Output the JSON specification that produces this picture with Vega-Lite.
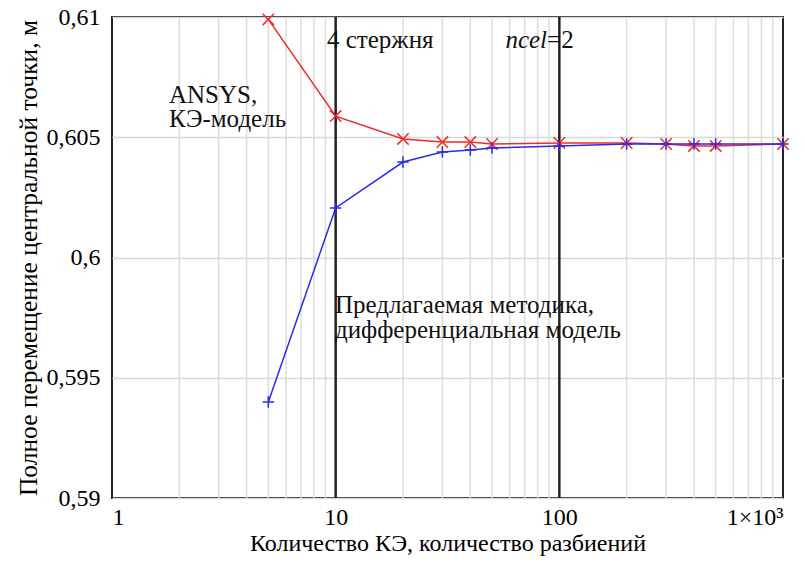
{
  "$schema": "https://vega.github.io/schema/vega-lite/v6.json",
  "width": 671,
  "height": 481,
  "autosize": {"type": "none"},
  "padding": {"left": 112, "top": 17, "right": 22, "bottom": 69},
  "background": "white",
  "config": {
    "view": {"stroke": "#222222", "strokeWidth": 2},
    "font": "Times New Roman",
    "locale": {"number": {"decimal": ",", "thousands": " ", "grouping": [3], "currency": ["", ""]}},
    "axisX": {
      "values": [1, 10, 100, 1000],
      "grid": false, "ticks": false, "domain": false,
      "labelFont": "Times New Roman", "labelFontSize": 24, "labelColor": "black",
      "labelPadding": 7,
      "titleFont": "Times New Roman", "titleFontSize": 24, "titleFontWeight": "normal",
      "titleColor": "black", "titlePadding": 2
    },
    "axisY": {
      "grid": true, "gridColor": "#d9d9d9", "gridWidth": 1.5,
      "ticks": false, "domain": false,
      "labelFont": "Times New Roman", "labelFontSize": 24, "labelColor": "black",
      "labelPadding": 12,
      "titleFont": "Times New Roman", "titleFontSize": 25.5, "titleFontWeight": "normal",
      "titleColor": "black", "titlePadding": 5
    }
  },
  "datasets": {
    "minor": [
      {"n": 2}, {"n": 3}, {"n": 4}, {"n": 5}, {"n": 6}, {"n": 7}, {"n": 8}, {"n": 9},
      {"n": 20}, {"n": 30}, {"n": 40}, {"n": 50}, {"n": 60}, {"n": 70}, {"n": 80}, {"n": 90},
      {"n": 200}, {"n": 300}, {"n": 400}, {"n": 500}, {"n": 600}, {"n": 700}, {"n": 800}, {"n": 900}
    ],
    "major": [{"n": 10}, {"n": 100}],
    "series": [
      {"s": "ANSYS", "n": 5, "v": 0.6099},
      {"s": "ANSYS", "n": 10, "v": 0.60588},
      {"s": "ANSYS", "n": 20, "v": 0.60493},
      {"s": "ANSYS", "n": 30, "v": 0.6048},
      {"s": "ANSYS", "n": 40, "v": 0.6048},
      {"s": "ANSYS", "n": 50, "v": 0.60472},
      {"s": "ANSYS", "n": 100, "v": 0.60476},
      {"s": "ANSYS", "n": 200, "v": 0.60476},
      {"s": "ANSYS", "n": 300, "v": 0.60472},
      {"s": "ANSYS", "n": 400, "v": 0.60464},
      {"s": "ANSYS", "n": 500, "v": 0.60464},
      {"s": "ANSYS", "n": 1000, "v": 0.60472},
      {"s": "Метод", "n": 5, "v": 0.59399},
      {"s": "Метод", "n": 10, "v": 0.60206},
      {"s": "Метод", "n": 20, "v": 0.60397},
      {"s": "Метод", "n": 30, "v": 0.60439},
      {"s": "Метод", "n": 40, "v": 0.60447},
      {"s": "Метод", "n": 50, "v": 0.60455},
      {"s": "Метод", "n": 100, "v": 0.60464},
      {"s": "Метод", "n": 200, "v": 0.60472},
      {"s": "Метод", "n": 300, "v": 0.60472},
      {"s": "Метод", "n": 400, "v": 0.60472},
      {"s": "Метод", "n": 500, "v": 0.60472},
      {"s": "Метод", "n": 1000, "v": 0.60472}
    ],
    "notes": [
      {"n": 9.147, "v": 0.60871, "t": "4 стержня"},
      {"n": 88.1, "v": 0.60871, "t": "=2"},
      {"n": 1.798, "v": 0.606424, "t": "ANSYS,"},
      {"n": 1.798, "v": 0.60542, "t": "КЭ-модель"},
      {"n": 9.93, "v": 0.597692, "t": "Предлагаемая методика,"},
      {"n": 9.93, "v": 0.596653, "t": "дифференциальная модель"}
    ],
    "notes_it": [
      {"n": 88.1, "v": 0.60871, "t": "ncel"}
    ]
  },
  "layer": [
    {
      "data": {"name": "minor"},
      "mark": {"type": "rule", "color": "#dcdcdc", "strokeWidth": 1.5},
      "encoding": {
        "x": {
          "field": "n", "type": "quantitative",
          "scale": {"type": "log", "domain": [1, 1000], "nice": false},
          "title": "Количество КЭ, количество разбиений",
          "axis": {"values": [1, 10, 100, 1000], "labelExpr": "datum.value >= 1000 ? '1×10³' : datum.label", "format": "d"}
        }
      }
    },
    {
      "data": {"name": "series"},
      "mark": {"type": "line", "strokeWidth": 1.5},
      "encoding": {
        "x": {"field": "n", "type": "quantitative", "title": "Количество КЭ, количество разбиений"},
        "y": {
          "field": "v", "type": "quantitative",
          "scale": {"domain": [0.59, 0.61], "nice": false, "zero": false},
          "title": "Полное перемещение центральной точки, м",
          "axis": {"values": [0.59, 0.595, 0.6, 0.605, 0.61], "format": ".3~f"}
        },
        "color": {"field": "s", "type": "nominal", "scale": {"domain": ["ANSYS", "Метод"], "range": ["#ee2a2a", "#2a2aee"]}, "legend": null}
      }
    },
    {
      "data": {"name": "major"},
      "mark": {"type": "rule", "color": "#222222", "strokeWidth": 2.5},
      "encoding": {
        "x": {"field": "n", "type": "quantitative", "title": "Количество КЭ, количество разбиений"}
      }
    },
    {
      "data": {"name": "series"},
      "mark": {"type": "point", "filled": false, "strokeWidth": 1.5, "size": 130, "opacity": 1, "clip": false},
      "encoding": {
        "x": {"field": "n", "type": "quantitative", "title": "Количество КЭ, количество разбиений"},
        "y": {"field": "v", "type": "quantitative", "title": "Полное перемещение центральной точки, м"},
        "color": {"field": "s", "type": "nominal", "legend": null},
        "shape": {"field": "s", "type": "nominal", "scale": {"domain": ["ANSYS", "Метод"], "range": ["M-1,-1L1,1M-1,1L1,-1", "M-1,0L1,0M0,-1L0,1"]}, "legend": null}
      }
    },
    {
      "data": {"name": "notes"},
      "mark": {"type": "text", "align": "left", "baseline": "alphabetic", "font": "Times New Roman", "fontSize": 25, "color": "#111111"},
      "encoding": {
        "x": {"field": "n", "type": "quantitative", "title": "Количество КЭ, количество разбиений"},
        "y": {"field": "v", "type": "quantitative", "title": "Полное перемещение центральной точки, м"},
        "text": {"field": "t"}
      }
    },
    {
      "data": {"name": "notes_it"},
      "mark": {"type": "text", "align": "right", "baseline": "alphabetic", "font": "Times New Roman", "fontSize": 25, "fontStyle": "italic", "color": "#111111"},
      "encoding": {
        "x": {"field": "n", "type": "quantitative", "title": "Количество КЭ, количество разбиений"},
        "y": {"field": "v", "type": "quantitative", "title": "Полное перемещение центральной точки, м"},
        "text": {"field": "t"}
      }
    }
  ]
}
